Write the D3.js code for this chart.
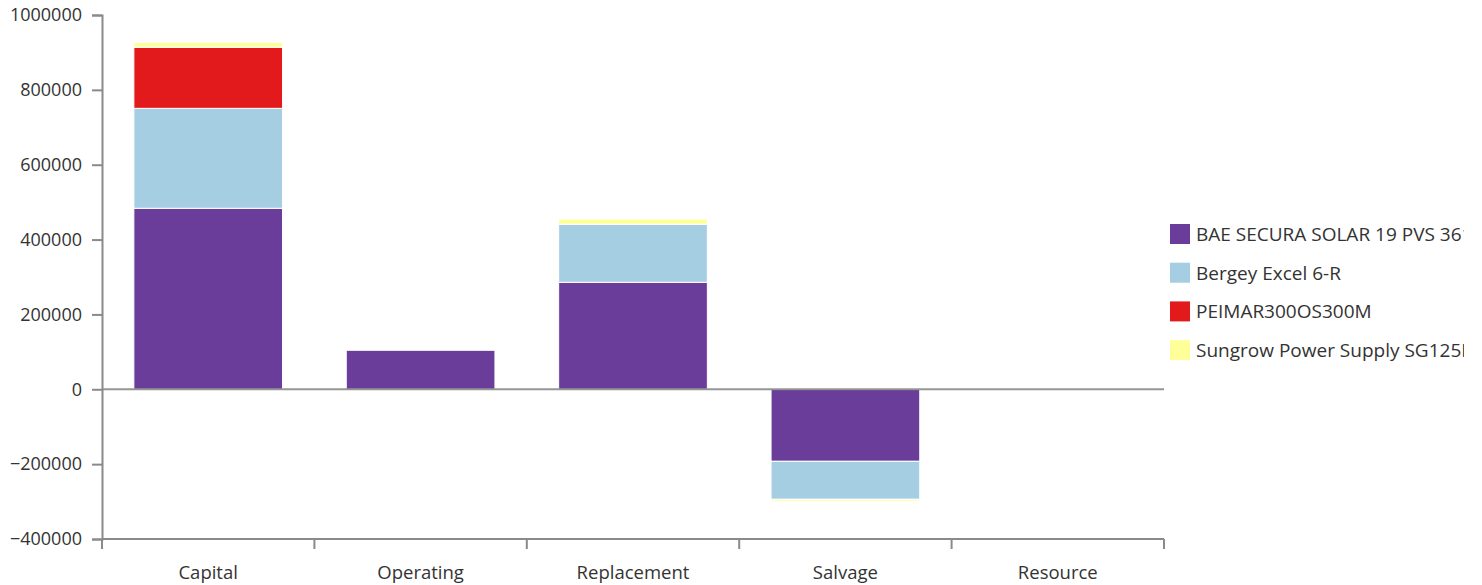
<!DOCTYPE html>
<html>
<head>
<meta charset="utf-8">
<script src="https://cdn.jsdelivr.net/npm/d3@7"></script>
<style>
  html, body { margin: 0; padding: 0; background: #fff; }
  svg { display: block; }
  text { font-family: "Open Sans", "Noto Sans", sans-serif; fill: #333; }
</style>
</head>
<body>
<svg id="chart" width="1464" height="585"></svg>
<script>
// Cost categories and per-component contributions
const categories = ["Capital", "Operating", "Replacement", "Salvage", "Resource"];
const seriesNames = [
  "BAE SECURA SOLAR 19 PVS 3610",
  "Bergey Excel 6-R",
  "PEIMAR300OS300M",
  "Sungrow Power Supply SG125HV"
];
const baeValues     = [483600, 104200, 285900, -192400, 0];
const bergeyValues  = [267000, 0, 155000, -101500, 0];
const peimarValues  = [163000, 0, 0, 0, 0];
const sungrowValues = [13400, 0, 14000, -5000, 0];
const seriesColors = ["#6a3d9a", "#a6cee3", "#e31a1c", "#ffff99"];
const yTickValues = [-400000, -200000, 0, 200000, 400000, 600000, 800000, 1000000];

const allValues = [baeValues, bergeyValues, peimarValues, sungrowValues];
const rows = categories.map((c, i) => {
  const r = { category: c };
  seriesNames.forEach((s, j) => { r[s] = allValues[j][i]; });
  return r;
});

const svg = d3.select("#chart");
const plotLeft = 102, plotRight = 1164, plotTop = 15, plotBottom = 539;

const x = d3.scaleBand()
  .domain(categories)
  .range([plotLeft, plotRight])
  .paddingInner(0.3)
  .paddingOuter(0.15);

const y = d3.scaleLinear()
  .domain([-400000, 1000000])
  .range([plotBottom, plotTop]);

const color = d3.scaleOrdinal().domain(seriesNames).range(seriesColors);

const stacked = d3.stack()
  .keys(seriesNames)
  .offset(d3.stackOffsetDiverging)(rows);

// Stacked bars
svg.append("g")
  .selectAll("g")
  .data(stacked)
  .join("g")
  .attr("fill", d => color(d.key))
  .selectAll("rect")
  .data(d => d.filter(p => p[1] !== p[0]))
  .join("rect")
  .attr("x", d => x(d.data.category))
  .attr("width", x.bandwidth())
  .attr("y", d => y(Math.max(d[0], d[1])))
  .attr("height", d => Math.abs(y(d[0]) - y(d[1])))
  .attr("stroke", "#fff")
  .attr("stroke-width", 1);

const axisColor = "#8a8a8a";

// Y axis
const yAxis = svg.append("g")
  .attr("transform", `translate(${plotLeft},0)`)
  .call(d3.axisLeft(y).tickValues(yTickValues).tickFormat(d3.format("d")).tickSizeOuter(0).tickSize(10).tickPadding(10));
yAxis.select(".domain").attr("stroke", axisColor).attr("stroke-width", 2);
yAxis.selectAll(".tick line").attr("stroke", axisColor).attr("stroke-width", 2);
yAxis.selectAll(".tick text").style("font-size", "18px").attr("fill", "#333");

// Zero line
svg.append("line")
  .attr("x1", plotLeft).attr("x2", plotRight)
  .attr("y1", y(0)).attr("y2", y(0))
  .attr("stroke", axisColor).attr("stroke-width", 2).attr("stroke-opacity", 0.9);

// X axis with ticks at category boundaries
const step = x.step();
const edgeOffset = step * x.paddingInner() / 2;
const boundaries = categories.map(c => x(c) - edgeOffset).concat([x(categories[categories.length - 1]) + x.bandwidth() + edgeOffset]);
const xg = svg.append("g");
xg.append("line")
  .attr("x1", plotLeft).attr("x2", plotRight)
  .attr("y1", plotBottom).attr("y2", plotBottom)
  .attr("stroke", axisColor).attr("stroke-width", 2);
xg.selectAll("line.tick")
  .data(boundaries)
  .join("line")
  .attr("class", "tick")
  .attr("x1", d => d).attr("x2", d => d)
  .attr("y1", plotBottom).attr("y2", plotBottom + 10)
  .attr("stroke", axisColor).attr("stroke-width", 2);
xg.selectAll("text")
  .data(categories)
  .join("text")
  .attr("x", d => x(d) + x.bandwidth() / 2)
  .attr("y", plotBottom + 40)
  .attr("text-anchor", "middle")
  .style("font-size", "18.5px")
  .text(d => d);

// Legend
const legend = svg.append("g").attr("transform", "translate(1170,224)");
const li = legend.selectAll("g")
  .data(seriesNames)
  .join("g")
  .attr("transform", (d, i) => `translate(0,${i * 38.7})`);
li.append("rect")
  .attr("width", 20).attr("height", 20)
  .attr("fill", d => color(d));
li.append("text")
  .attr("x", 26).attr("y", 17)
  .style("font-size", "19px")
  .attr("fill", "#111")
  .text(d => d);
</script>
</body>
</html>
